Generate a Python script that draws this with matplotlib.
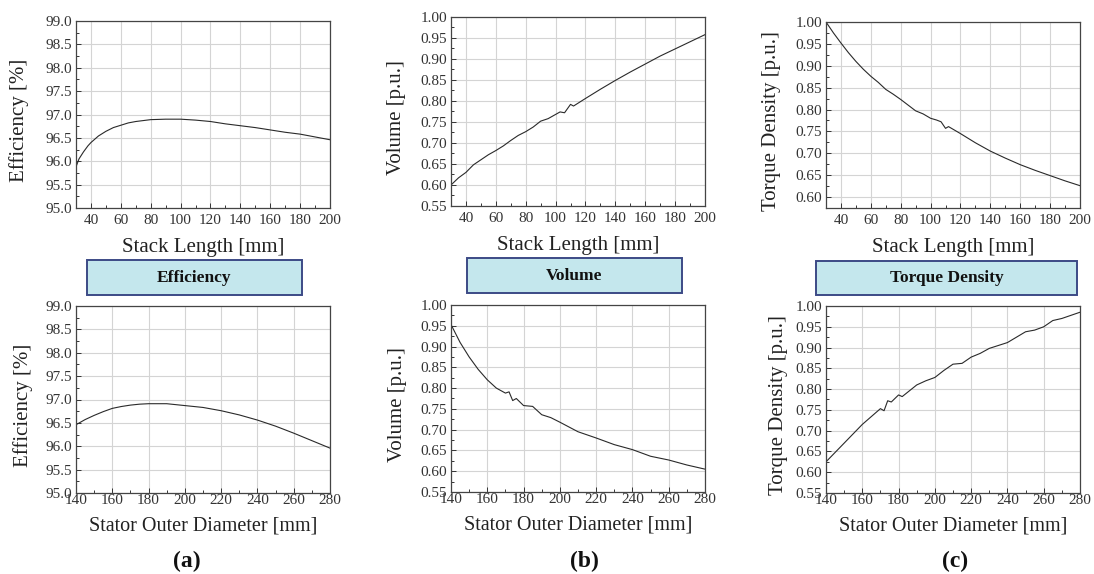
import matplotlib
matplotlib.use("Agg")
import matplotlib.pyplot as plt
from matplotlib.patches import Rectangle
from matplotlib.ticker import MultipleLocator, AutoMinorLocator

plt.rcParams["font.family"] = ["Liberation Serif", "DejaVu Serif"]

W, H = 1094, 574

# ── data ─────────────────────────────────────────────────────────────────────
# stack-length sweep [mm]
stack_eff_x = [30, 32, 35, 38, 40, 45, 50, 55, 60, 65, 70, 80, 90, 100, 110,
               120, 130, 140, 150, 160, 170, 180, 190, 200]
stack_eff_y = [95.88, 96.05, 96.2, 96.33, 96.4, 96.54, 96.64, 96.72, 96.77,
               96.82, 96.85, 96.89, 96.9, 96.9, 96.88, 96.85, 96.8, 96.76,
               96.72, 96.67, 96.62, 96.58, 96.52, 96.46]

stack_vol_x = [30, 35, 40, 45, 50, 55, 60, 65, 70, 75, 80, 85, 90, 95, 100,
               103, 106, 110, 112, 120, 130, 140, 150, 160, 170, 180, 190, 200]
stack_vol_y = [0.600, 0.617, 0.630, 0.648, 0.660, 0.672, 0.682, 0.693, 0.706,
               0.718, 0.727, 0.738, 0.752, 0.758, 0.768, 0.774, 0.772, 0.792,
               0.788, 0.806, 0.828, 0.849, 0.869, 0.888, 0.907, 0.924, 0.941,
               0.958]

stack_td_x = [30, 35, 40, 45, 50, 55, 60, 65, 70, 75, 80, 85, 90, 95, 100,
              104, 107, 110, 112, 120, 130, 140, 150, 160, 170, 180, 190, 200]
stack_td_y = [1.000, 0.975, 0.952, 0.930, 0.910, 0.892, 0.876, 0.862, 0.846,
              0.835, 0.823, 0.810, 0.797, 0.790, 0.780, 0.776, 0.772, 0.757,
              0.761, 0.745, 0.724, 0.705, 0.689, 0.674, 0.661, 0.649, 0.637,
              0.626]

# stator outer diameter sweep [mm]
dia_eff_x = [140, 145, 150, 155, 160, 165, 170, 175, 180, 185, 190, 195, 200,
             210, 220, 230, 240, 250, 260, 270, 280]
dia_eff_y = [96.46, 96.57, 96.66, 96.74, 96.81, 96.85, 96.88, 96.9, 96.91,
             96.91, 96.91, 96.89, 96.87, 96.83, 96.76, 96.67, 96.56, 96.43,
             96.28, 96.12, 95.96]

dia_vol_x = [140, 145, 150, 155, 160, 165, 170, 172, 174, 176, 180, 185, 190,
             195, 200, 210, 220, 230, 240, 250, 260, 270, 280]
dia_vol_y = [0.953, 0.910, 0.875, 0.845, 0.820, 0.800, 0.788, 0.791, 0.770,
             0.775, 0.758, 0.756, 0.736, 0.729, 0.718, 0.695, 0.680, 0.664,
             0.652, 0.636, 0.627, 0.615, 0.605]

dia_td_x = [140, 150, 160, 170, 172, 174, 176, 180, 182, 190, 195, 200, 205,
            210, 215, 220, 225, 230, 240, 245, 250, 255, 260, 265, 270, 280]
dia_td_y = [0.625, 0.670, 0.715, 0.753, 0.748, 0.772, 0.769, 0.786, 0.782,
            0.810, 0.820, 0.828, 0.845, 0.860, 0.862, 0.877, 0.886, 0.898,
            0.912, 0.925, 0.938, 0.942, 0.950, 0.965, 0.970, 0.985]

box_titles = ["Efficiency", "Volume", "Torque Density"]
panel_tags = ["(a)", "(b)", "(c)"]


def px_axes(fig, left, top, right, bottom):
    return fig.add_axes([left / W, 1 - bottom / H, (right - left) / W,
                         (bottom - top) / H])


def style(ax, xlim, xstep, ylim, ystep, yfmt, xlabel, ylabel, ylab_x,
          xlab_y, xpad, xlab_size=15):
    ax.set_xlim(*xlim)
    ax.set_ylim(*ylim)
    ax.xaxis.set_major_locator(MultipleLocator(xstep))
    ax.yaxis.set_major_locator(MultipleLocator(ystep))
    ax.xaxis.set_minor_locator(AutoMinorLocator(2))
    ax.yaxis.set_minor_locator(AutoMinorLocator(2))
    ax.yaxis.set_major_formatter(yfmt)
    ax.grid(True, which="major", color="#d4d4d4", lw=0.8)
    ax.set_axisbelow(True)
    ax.tick_params(which="both", direction="in", colors="#333333",
                   labelsize=11, top=False, right=False)
    ax.tick_params(which="major", length=3.5, width=0.7)
    ax.tick_params(which="minor", length=2.5, width=0.7)
    ax.tick_params(axis="x", pad=xpad)
    ax.tick_params(axis="y", pad=3)
    for sp in ax.spines.values():
        sp.set_color("#444444")
        sp.set_linewidth(0.9)
    ax.set_xlabel(xlabel, fontsize=xlab_size, color="#222222")
    ax.set_ylabel(ylabel, fontsize=15, color="#222222")
    ax.yaxis.set_label_coords(ylab_x, 0.47)
    ax.xaxis.set_label_coords(0.5, xlab_y)


fig = plt.figure(figsize=(W / 100, H / 100), dpi=100)

cols = [(76, 330), (451, 705), (826, 1080)]
top_rows = [(21, 208), (17, 206), (22, 208)]
bot_rows = [(306, 493), (305, 492), (306, 493)]

fmt1 = "{x:.1f}"
fmt2 = "{x:.2f}"
line_kw = dict(color="#2a2a2a", lw=0.8)

# ── top row: stack length sweep ─────────────────────────────────────────────
ax = px_axes(fig, cols[0][0], top_rows[0][0], cols[0][1], top_rows[0][1])
ax.plot(stack_eff_x, stack_eff_y, **line_kw)
style(ax, (30, 200), 20, (95.0, 99.0), 0.5, fmt1, "Stack Length [mm]",
      "Efficiency [%]", -0.185, -0.16, 4)

ax = px_axes(fig, cols[1][0], top_rows[1][0], cols[1][1], top_rows[1][1])
ax.plot(stack_vol_x, stack_vol_y, **line_kw)
style(ax, (30, 200), 20, (0.55, 1.00), 0.05, fmt2, "Stack Length [mm]",
      "Volume [p.u.]", -0.177, -0.16, 4)

ax = px_axes(fig, cols[2][0], top_rows[2][0], cols[2][1], top_rows[2][1])
ax.plot(stack_td_x, stack_td_y, **line_kw)
style(ax, (30, 200), 20, (0.575, 1.00), 0.05, fmt2, "Stack Length [mm]",
      "Torque Density [p.u.]", -0.177, -0.16, 4)

# ── bottom row: stator outer diameter sweep ─────────────────────────────────
ax = px_axes(fig, cols[0][0], bot_rows[0][0], cols[0][1], bot_rows[0][1])
ax.plot(dia_eff_x, dia_eff_y, **line_kw)
style(ax, (140, 280), 20, (95.0, 99.0), 0.5, fmt1,
      "Stator Outer Diameter [mm]", "Efficiency [%]", -0.169, -0.123, 0.5,
      14.5)

ax = px_axes(fig, cols[1][0], bot_rows[1][0], cols[1][1], bot_rows[1][1])
ax.plot(dia_vol_x, dia_vol_y, **line_kw)
style(ax, (140, 280), 20, (0.55, 1.00), 0.05, fmt2,
      "Stator Outer Diameter [mm]", "Volume [p.u.]", -0.173, -0.123, 0.5,
      14.5)

ax = px_axes(fig, cols[2][0], bot_rows[2][0], cols[2][1], bot_rows[2][1])
ax.plot(dia_td_x, dia_td_y, **line_kw)
style(ax, (140, 280), 20, (0.55, 1.00), 0.05, fmt2,
      "Stator Outer Diameter [mm]", "Torque Density [p.u.]", -0.15, -0.123,
      0.5, 14.5)

# ── title boxes between the rows ────────────────────────────────────────────
boxes = [(87, 260, 302, 295), (467, 258, 682, 293), (816, 261, 1077, 295)]
for (x0, y0, x1, y1), title in zip(boxes, box_titles):
    fig.patches.append(Rectangle((x0 / W, 1 - y1 / H), (x1 - x0) / W,
                                 (y1 - y0) / H, transform=fig.transFigure,
                                 facecolor="#c4e7ed", edgecolor="#3c4a86",
                                 lw=1.4))
    fig.text((x0 + x1) / 2 / W, 1 - (y0 + y1) / 2 / H, title,
             ha="center", va="center", fontsize=12.5, fontweight="bold",
             color="#111111")

# ── panel tags ──────────────────────────────────────────────────────────────
for xc, tag in zip([187, 584, 955], panel_tags):
    fig.text(xc / W, 1 - 561 / H, tag, ha="center", va="center",
             fontsize=17, fontweight="bold", color="#111111")

fig.savefig("out.png", dpi=100)
